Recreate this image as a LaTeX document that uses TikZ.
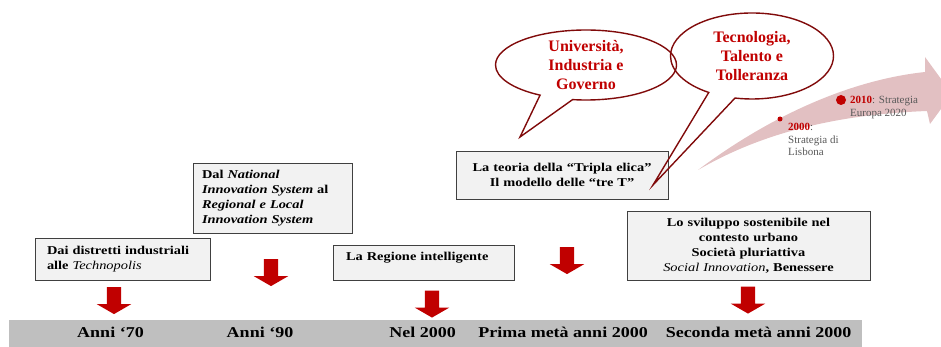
\documentclass[tikz,border=0pt]{standalone}
\usepackage{fontspec}
\setmainfont{Liberation Serif}
\newfontfamily\widefont{Liberation Serif}[FakeStretch=1.2]
\usetikzlibrary{shapes.arrows,shapes.callouts,positioning}
\definecolor{darkred}{RGB}{192,0,0}
\definecolor{bubbleline}{RGB}{128,10,10}
\definecolor{boxfill}{RGB}{242,242,242}
\definecolor{boxline}{RGB}{64,64,64}
\definecolor{barfill}{RGB}{191,191,191}
\definecolor{bandfill}{RGB}{226,192,194}
\definecolor{labelgray}{RGB}{89,89,89}
\tikzset{
  stage/.style={draw=boxline,fill=boxfill,line width=0.9pt,font=\widefont\fontsize{12}{15}\selectfont\bfseries,inner ysep=0pt},
  droparrow/.style={single arrow,shape border rotate=270,fill=darkred,draw=none,inner sep=7pt,single arrow head extend=10pt,single arrow tip angle=120,minimum height=27pt,minimum width=0pt},
  period/.style={font=\widefont\fontsize{15}{18}\selectfont\bfseries,inner sep=0pt},
  bubble/.style={ellipse callout,draw=bubbleline,line width=1.4pt,inner sep=0pt},
  bubbletext/.style={text=darkred,font=\fontsize{16}{19}\selectfont\bfseries,align=center,inner sep=0pt},
  milestone/.style={circle,fill=darkred,inner sep=0pt},
  mtext/.style={font=\fontsize{11}{12.5}\selectfont,text=labelgray,align=left,inner sep=0pt,anchor=north west}
}
\begin{document}
\begin{tikzpicture}[x=1pt,y=-1pt]
  \useasboundingbox (0,0) rectangle (941,347);

  \fill[bandfill] (698,170) .. controls (770,116) and (850,80) .. (925,72) -- (925,57) -- (952,94) -- (930,124) -- (927,111) .. controls (850,114) and (770,128) .. (698,170) -- cycle;
  \node (m2000) [milestone,minimum size=5pt] at (780,119) {};
  \node (m2010) [milestone,minimum size=10pt] at (841,100) {};
  \node (l2000) [mtext] at (788,123) {\textcolor{darkred}{\textbf{2000}}:\\Strategia di\\Lisbona};
  \node (l2010) [mtext] at (850,96) {\textcolor{darkred}{\textbf{2010}}: Strategia\\Europa 2020};

  \node (bar) [fill=barfill,minimum width=853pt,minimum height=27pt,inner sep=0pt] at (435.5,333.5) {};
  \node (p70) [period] at (110.5,332) {Anni ‘70};
  \node (p90) [period] at (260,332) {Anni ‘90};
  \node (p2000) [period] at (422.5,332) {Nel 2000};
  \node (pfirst) [period] at (563,332) {Prima metà anni 2000};
  \node (psecond) [period] at (758.5,332) {Seconda metà anni 2000};

  \node (distretti) [stage,text width=151pt,inner xsep=12pt,minimum height=42pt,align=left] at (122.5,259) {Dai distretti industriali\\alle {\mdseries\itshape Technopolis}};
  \node (national) [stage,text width=141pt,inner xsep=9pt,minimum height=70pt,align=left] at (272.5,198) {Dal \textit{National}\\\textit{Innovation System} al\\\textit{Regional e Local}\\\textit{Innovation System}};
  \node (regione) [stage,text width=155pt,inner xsep=13pt,minimum height=35pt,text depth=12pt,align=left] at (423.5,262.5) {La Regione intelligente};
  \node (elica) [stage,text width=200pt,inner xsep=6pt,minimum height=48pt,align=center] at (562,175) {La teoria della “Tripla elica”\\Il modello delle “tre T”};
  \node (sviluppo) [stage,text width=231pt,inner xsep=6pt,minimum height=69pt,align=center] at (748.5,245.5) {Lo sviluppo sostenibile nel\\contesto urbano\\Società pluriattiva\\{\mdseries\itshape Social Innovation}, Benessere};

  \node (a70) [droparrow] at (114,298.5) {};
  \node (a90) [droparrow] at (271,270.5) {};
  \node (a2000) [droparrow] at (432,302) {};
  \node (afirst) [droparrow] at (567,258.5) {};
  \node (asecond) [droparrow] at (748,298) {};

  \coordinate (uigtip) at (520,137);
  \coordinate (ttttip) at (653,185);
  \node (uig) [bubble,minimum width=181pt,minimum height=70pt,callout absolute pointer={(uigtip)},callout pointer arc=22,label={[bubbletext]center:Università,\\Industria e\\Governo}] at (586,65) {};
  \node (ttt) [bubble,minimum width=163pt,minimum height=86pt,callout absolute pointer={(ttttip)},callout pointer arc=20,label={[bubbletext]center:Tecnologia,\\Talento e\\Tolleranza}] at (752,56) {};
\end{tikzpicture}
\end{document}
